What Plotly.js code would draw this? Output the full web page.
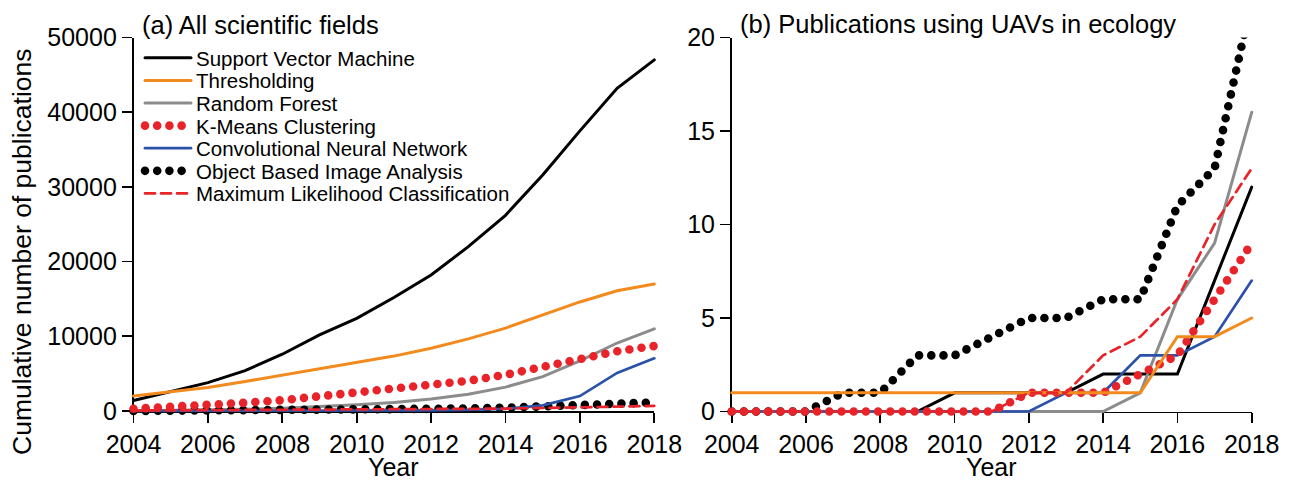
<!DOCTYPE html>
<html>
<head>
<meta charset="utf-8">
<script src="https://cdn.plot.ly/plotly-3.0.1.min.js"></script>
<style>
  html, body { margin: 0; padding: 0; background: #ffffff; }
  #chart { width: 1291px; height: 480px; }
  .js-line { stroke-linecap: round; }
</style>
</head>
<body>
<div id="chart"></div>
<script>
// ---- data -------------------------------------------------------------
const years = [2004, 2005, 2006, 2007, 2008, 2009, 2010, 2011, 2012, 2013, 2014, 2015, 2016, 2017, 2018];

const methodNames = [
  'Support Vector Machine',
  'Thresholding',
  'Random Forest',
  'K-Means Clustering',
  'Convolutional Neural Network',
  'Object Based Image Analysis',
  'Maximum Likelihood Classification'
];

// (a) cumulative publications, all scientific fields
const svmAll    = [1400, 2600, 3800, 5400, 7600, 10200, 12400, 15200, 18200, 22000, 26200, 31600, 37500, 43200, 47000];
const threshAll = [2000, 2550, 3150, 3950, 4800, 5600, 6450, 7350, 8400, 9650, 11100, 12800, 14600, 16100, 17000];
const rfAll     = [30, 60, 120, 220, 380, 580, 820, 1150, 1600, 2250, 3200, 4600, 6700, 9100, 11000];
const kmeansAll = [300, 500, 800, 1100, 1450, 1950, 2450, 2850, 3300, 4050, 4850, 5900, 6950, 8000, 8700];
const cnnAll    = [0, 0, 5, 10, 15, 20, 30, 50, 80, 140, 280, 750, 2000, 5100, 7050];
const obiaAll   = [10, 20, 30, 50, 70, 100, 140, 190, 250, 330, 440, 580, 780, 980, 1150];
const mlcAll    = [60, 80, 100, 120, 140, 160, 180, 200, 230, 270, 320, 400, 480, 580, 680];

// (b) cumulative publications using UAVs in ecology
const svmUav    = [0, 0, 0, 0, 0, 0, 1, 1, 1, 1, 2, 2, 2, 7, 12];
const threshUav = [1, 1, 1, 1, 1, 1, 1, 1, 1, 1, 1, 1, 4, 4, 5];
const rfUav     = [0, 0, 0, 0, 0, 0, 0, 0, 0, 0, 0, 1, 6, 9, 16];
const kmeansUav = [0, 0, 0, 0, 0, 0, 0, 0, 1, 1, 1, 2, 3, 6, 9];
const cnnUav    = [0, 0, 0, 0, 0, 0, 0, 0, 0, 1, 1, 3, 3, 4, 7];
const obiaUav   = [0, 0, 0, 1, 1, 3, 3, 4, 5, 5, 6, 6, 11, 13, 22];
const mlcUav    = [0, 0, 0, 0, 0, 0, 0, 0, 1, 1, 3, 4, 6, 10, 13];

const yTicksAll = [0, 10000, 20000, 30000, 40000, 50000];
const yTicksUav = [0, 5, 10, 15, 20];
const xTicks = [2004, 2006, 2008, 2010, 2012, 2014, 2016, 2018];

// ---- page geometry (pixels) ----------------------------------------------
const W = 1291, H = 480;
const FONT = 'Liberation Sans, Arial, Helvetica, sans-serif';
const INK = '#000000';

const panelA = { x0: 133.5, x1: 654.3, yTop: 37.5, yBot: 411, xr: [2004, 2018], yr: [0, 50000] };
const panelB = { x0: 731.7, x1: 1251.7, yTop: 37.5, yBot: 411.5, xr: [2004, 2018], yr: [0, 20] };

const xDom = (a, b) => [a / W, b / W];
const yDom = (top, bot) => [1 - bot / H, 1 - top / H];

// data layer: same scale as the visible axes, but a larger clip area so round
// dots on the axes are drawn whole (top of panel b stays clipped at 20)
function dataAxes(p, pad) {
  const sx = (p.xr[1] - p.xr[0]) / (p.x1 - p.x0);
  const sy = (p.yr[1] - p.yr[0]) / (p.yBot - p.yTop);
  return {
    x: { domain: xDom(p.x0 - pad.l, p.x1 + pad.r), range: [p.xr[0] - pad.l * sx, p.xr[1] + pad.r * sx] },
    y: { domain: yDom(p.yTop - pad.t, p.yBot + pad.b), range: [p.yr[0] - pad.b * sy, p.yr[1] + pad.t * sy] }
  };
}
const dA = dataAxes(panelA, { l: 10, r: 10, t: 10, b: 10 });
const dB = dataAxes(panelB, { l: 10, r: 10, t: 0, b: 10 });

// ---- styles ------------------------------------------------------------
const DOTS = '0px,12.2px';
const styles = [
  { color: '#000000', width: 3, dash: 'solid' },
  { color: '#f28a1e', width: 3, dash: 'solid' },
  { color: '#8c8c8c', width: 3, dash: 'solid' },
  { color: '#e8242a', width: 8.6, dash: DOTS },
  { color: '#2b52a8', width: 2.7, dash: 'solid' },
  { color: '#000000', width: 8.6, dash: DOTS },
  { color: '#e8242a', width: 2.7, dash: '10px,6px' }
];
// drawing order (index into methodNames)
const drawOrder = [0, 2, 5, 4, 3, 1, 6];

const seriesAll = [svmAll, threshAll, rfAll, kmeansAll, cnnAll, obiaAll, mlcAll];
const seriesUav = [svmUav, threshUav, rfUav, kmeansUav, cnnUav, obiaUav, mlcUav];

const traces = [
  // empty traces so the two framed axis pairs are drawn
  { x: [], y: [], xaxis: 'x', yaxis: 'y', type: 'scatter', mode: 'lines', showlegend: false, hoverinfo: 'skip' },
  { x: [], y: [], xaxis: 'x2', yaxis: 'y2', type: 'scatter', mode: 'lines', showlegend: false, hoverinfo: 'skip' }
];
drawOrder.forEach(i => {
  traces.push({
    x: years, y: seriesAll[i], name: methodNames[i],
    xaxis: 'x3', yaxis: 'y3', type: 'scatter', mode: 'lines',
    line: { color: styles[i].color, width: styles[i].width, dash: styles[i].dash },
    legend: i === 0 ? 'legend' : 'legend' + (i + 1),
    showlegend: true, hoverinfo: 'skip'
  });
});
drawOrder.forEach(i => {
  traces.push({
    x: years, y: seriesUav[i], name: methodNames[i],
    xaxis: 'x4', yaxis: 'y4', type: 'scatter', mode: 'lines',
    line: { color: styles[i].color, width: styles[i].width, dash: styles[i].dash },
    showlegend: false, hoverinfo: 'skip'
  });
});

// ---- axes ----------------------------------------------------------------
function framedAxis(extra) {
  return Object.assign({
    showline: true, linecolor: INK, linewidth: 1.7,
    ticks: 'outside', ticklen: 10, tickwidth: 1.7, tickcolor: INK,
    showgrid: false, zeroline: false, fixedrange: true,
    tickfont: { family: FONT, size: 25, color: INK }
  }, extra);
}
function hiddenAxis(extra) {
  return Object.assign({ visible: false, showgrid: false, zeroline: false, fixedrange: true }, extra);
}

const layout = {
  width: W, height: H, autosize: false,
  margin: { l: 0, r: 0, t: 0, b: 0, pad: 0 },
  paper_bgcolor: '#ffffff', plot_bgcolor: 'rgba(0,0,0,0)',
  showlegend: true,
  xaxis: framedAxis({ domain: xDom(panelA.x0, panelA.x1), range: panelA.xr, anchor: 'y', tickmode: 'array', tickvals: xTicks, ticktext: xTicks.map(String) }),
  yaxis: framedAxis({ domain: yDom(panelA.yTop, panelA.yBot), range: panelA.yr, anchor: 'x', tickmode: 'array', tickvals: yTicksAll, ticktext: yTicksAll.map(String) }),
  xaxis2: framedAxis({ domain: xDom(panelB.x0, panelB.x1), range: panelB.xr, anchor: 'y2', tickmode: 'array', tickvals: xTicks, ticktext: xTicks.map(String) }),
  yaxis2: framedAxis({ domain: yDom(panelB.yTop, panelB.yBot), range: panelB.yr, anchor: 'x2', tickmode: 'array', tickvals: yTicksUav, ticktext: yTicksUav.map(String) }),
  xaxis3: hiddenAxis({ domain: dA.x.domain, range: dA.x.range, anchor: 'y3' }),
  yaxis3: hiddenAxis({ domain: dA.y.domain, range: dA.y.range, anchor: 'x3' }),
  xaxis4: hiddenAxis({ domain: dB.x.domain, range: dB.x.range, anchor: 'y4' }),
  yaxis4: hiddenAxis({ domain: dB.y.domain, range: dB.y.range, anchor: 'x4' }),
  annotations: [
    { text: '(a) All scientific fields', x: 141 / W, y: 1 - 25 / H, xref: 'paper', yref: 'paper',
      xanchor: 'left', yanchor: 'middle', showarrow: false, borderpad: 0,
      font: { family: FONT, size: 25.5, color: INK } },
    { text: '(b) Publications using UAVs in ecology', x: 739 / W, y: 1 - 24 / H, xref: 'paper', yref: 'paper',
      xanchor: 'left', yanchor: 'middle', showarrow: false, borderpad: 0,
      font: { family: FONT, size: 25.5, color: INK } },
    { text: 'Cumulative number of publications', x: 22 / W, y: 1 - 252 / H, xref: 'paper', yref: 'paper',
      xanchor: 'center', yanchor: 'middle', textangle: -90, showarrow: false, borderpad: 0,
      font: { family: FONT, size: 26.5, color: INK } },
    { text: 'Year', x: (panelA.x0 + panelA.x1) / 2 / W, y: 1 - 467 / H, xref: 'paper', yref: 'paper',
      xanchor: 'center', yanchor: 'middle', showarrow: false, borderpad: 0,
      font: { family: FONT, size: 25, color: INK } },
    { text: 'Year', x: (panelB.x0 + panelB.x1) / 2 / W, y: 1 - 467 / H, xref: 'paper', yref: 'paper',
      xanchor: 'center', yanchor: 'middle', showarrow: false, borderpad: 0,
      font: { family: FONT, size: 25, color: INK } }
  ]
};

// one single-entry legend per method, stacked as a key inside panel (a)
const LEG_X = 140, LEG_Y0 = 58, LEG_DY = 22.6;
methodNames.forEach((name, i) => {
  const key = i === 0 ? 'legend' : 'legend' + (i + 1);
  layout[key] = {
    x: LEG_X / W, y: 1 - (LEG_Y0 + i * LEG_DY) / H, xref: 'paper', yref: 'paper',
    xanchor: 'left', yanchor: 'middle',
    bgcolor: 'rgba(0,0,0,0)', borderwidth: 0, itemwidth: 46,
    font: { family: FONT, size: 20.5, color: INK }
  };
});

Plotly.newPlot('chart', traces, layout, { displayModeBar: false, staticPlot: true }).then(() => {
  document.querySelectorAll('#chart .js-line').forEach(p => { p.style.strokeLinecap = 'round'; });
});
</script>
</body>
</html>
